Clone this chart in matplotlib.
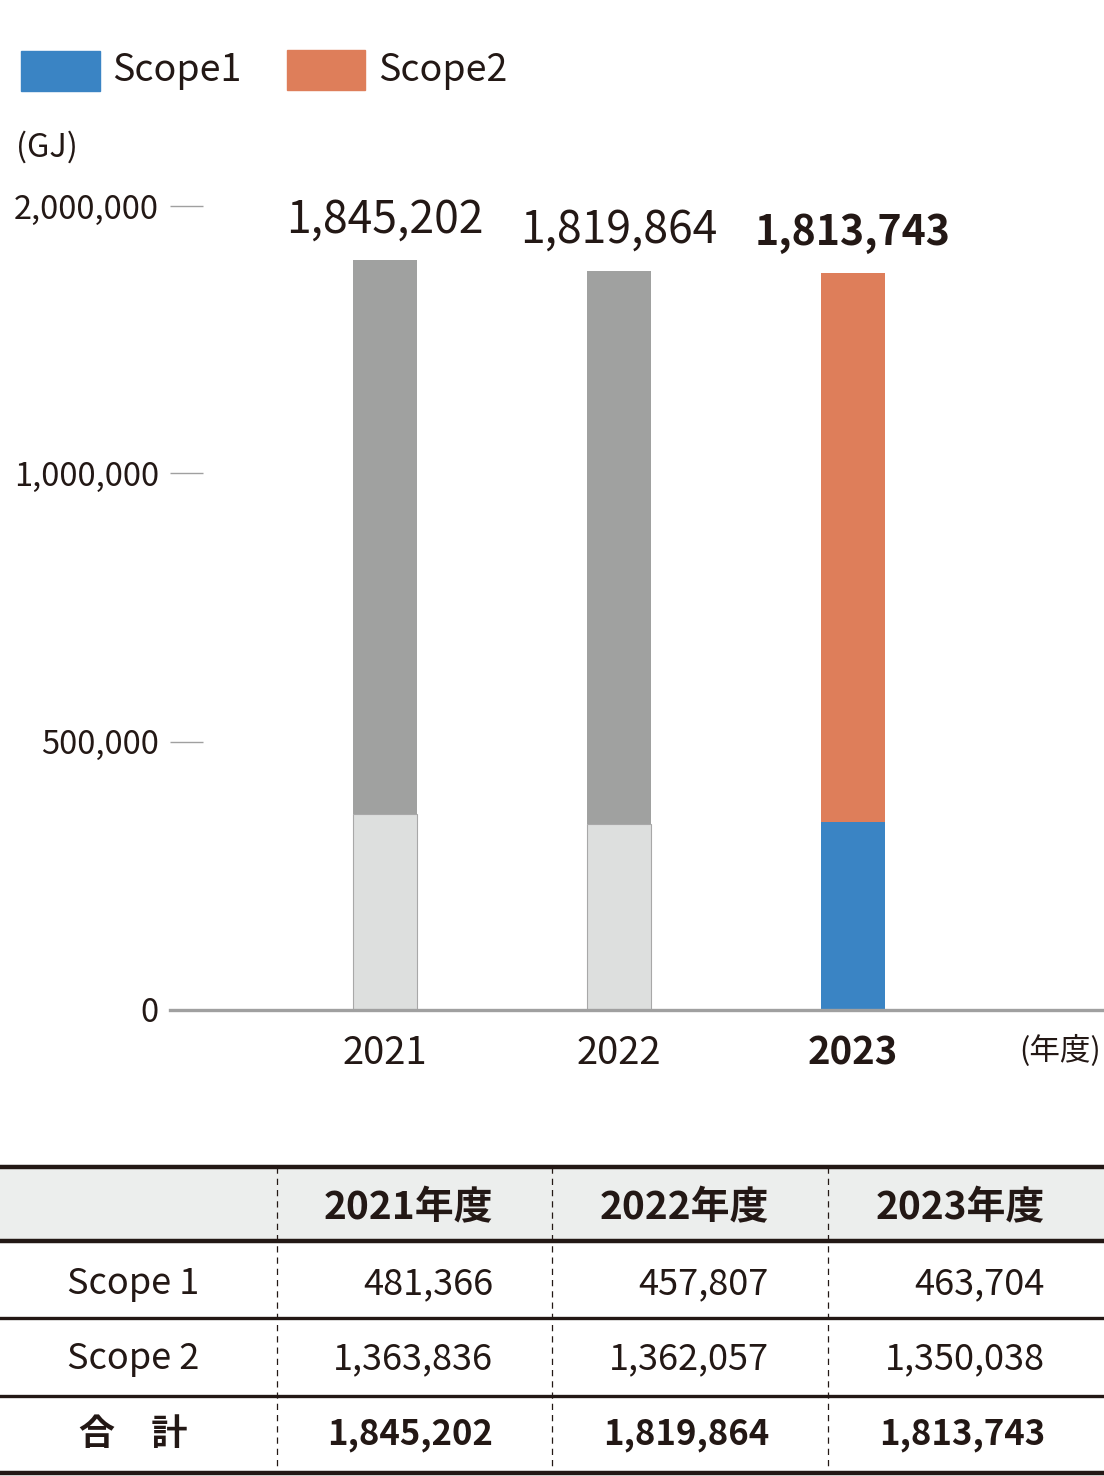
import matplotlib
matplotlib.use("Agg")
import matplotlib.pyplot as plt
from matplotlib.patches import Rectangle
from matplotlib.lines import Line2D

plt.rcParams['font.family'] = ['Noto Sans CJK JP', 'DejaVu Sans']

# Data
years = ['2021', '2022', '2023']
scope1 = [481366, 457807, 463704]
scope2 = [1363836, 1362057, 1350038]
totals = [1845202, 1819864, 1813743]

# y tick labels as printed in the original (their printed spacing is not to scale)
ytick_labels = ['0', '500,000', '1,000,000', '2,000,000']
ytick_pos = [0, 660000, 1321000, 1978000]

table_cols = ['2021年度', '2022年度', '2023年度']
table_rows = ['Scope 1', 'Scope 2', '合　計']

TXT = '#231815'
GRAY_DARK = '#a0a1a0'
GRAY_LIGHT = '#dddfde'
BLUE = '#3a84c4'
ORANGE = '#de7e5a'
W, H = 1104, 1476


def fy(py):
    """pixel row from top -> figure fraction"""
    return 1 - py / H


def fx(px):
    return px / W


fig = plt.figure(figsize=(W / 100, H / 100), dpi=100)

# Bar chart
ax = fig.add_axes([fx(170), fy(1010), fx(1104) - fx(170), 833 / H])
x = range(len(years))
bw = 0.2735
for i in x:
    last = i == len(years) - 1
    c1 = BLUE if last else GRAY_LIGHT
    c2 = ORANGE if last else GRAY_DARK
    ax.bar(i, scope1[i], bw, color=c1,
           edgecolor='none' if last else '#a8a8a8', linewidth=0.8, zorder=2)
    ax.bar(i, scope2[i], bw, bottom=scope1[i], color=c2, edgecolor='none', zorder=2)
    ax.annotate(f'{totals[i]:,}', (i, totals[i]), xytext=(0, 20),
                textcoords='offset points', ha='center', va='baseline',
                fontsize=29.5 if last else 32, color=TXT,
                fontweight='bold' if last else 'normal')

ax.set_xlim(-0.919, 3.073)
ax.set_ylim(0, 2.05e6)
ax.set_yticks(ytick_pos)
ax.set_yticklabels(ytick_labels)
ax.tick_params(axis='y', direction='in', length=24, width=1, color='#a0a0a0',
               pad=8, labelsize=23.5, labelcolor=TXT)
ax.set_xticks(list(x))
ax.set_xticklabels(years)
ax.tick_params(axis='x', length=0, pad=17, labelsize=27.5, labelcolor=TXT)
ax.get_xticklabels()[-1].set_fontweight('bold')
for s in ['top', 'right', 'left']:
    ax.spines[s].set_visible(False)
ax.spines['bottom'].set_color('#a0a0a0')
ax.spines['bottom'].set_linewidth(2.4)
ax.set_facecolor('none')

fig.text(fx(1101), fy(1051), '(年度)', ha='right', va='center', fontsize=22, color=TXT)
fig.text(fx(16), fy(147), '(GJ)', ha='left', va='center', fontsize=23.5, color=TXT)

# Legend
fig.patches.append(Rectangle((fx(21), fy(91)), fx(79), 40 / H, color=BLUE,
                             transform=fig.transFigure))
fig.patches.append(Rectangle((fx(287), fy(90)), fx(78), 40 / H, color=ORANGE,
                             transform=fig.transFigure))
fig.text(fx(112), fy(70), 'Scope1', ha='left', va='center', fontsize=27, color=TXT)
fig.text(fx(378), fy(70), 'Scope2', ha='left', va='center', fontsize=27, color=TXT)

# Table
fig.patches.append(Rectangle((0, fy(1241)), 1, 74 / H, color='#eceeed',
                             transform=fig.transFigure, zorder=0))
for py, lw in [(1167, 3.2), (1241, 3.2), (1318, 2.4), (1396, 2.4), (1473, 3.2)]:
    fig.add_artist(Line2D([0, 1], [fy(py), fy(py)], color=TXT, linewidth=lw,
                          transform=fig.transFigure))
for px in [277, 552, 828]:
    fig.add_artist(Line2D([fx(px), fx(px)], [fy(1167), fy(1473)], color=TXT,
                          linewidth=0.9, linestyle=(0, (5, 4)),
                          transform=fig.transFigure))

col_right = [493, 769, 1045]
row_y = [1284, 1359, 1435]
for j, name in enumerate(table_cols):
    fig.text(fx(col_right[j]), fy(1208), name, ha='right', va='center',
             fontsize=28, fontweight='bold', color=TXT)
rows_data = [scope1, scope2, totals]
for r, name in enumerate(table_rows):
    bold = r == len(table_rows) - 1
    fig.text(fx(133), fy(row_y[r]), name, ha='center', va='center',
             fontsize=26, fontweight='bold' if bold else 'normal', color=TXT)
    for j in range(len(years)):
        fig.text(fx(col_right[j]), fy(row_y[r]), f'{rows_data[r][j]:,}',
                 ha='right', va='center', fontsize=25 if bold else 26,
                 fontweight='bold' if bold else 'normal', color=TXT)

fig.savefig('out.png', dpi=100)
